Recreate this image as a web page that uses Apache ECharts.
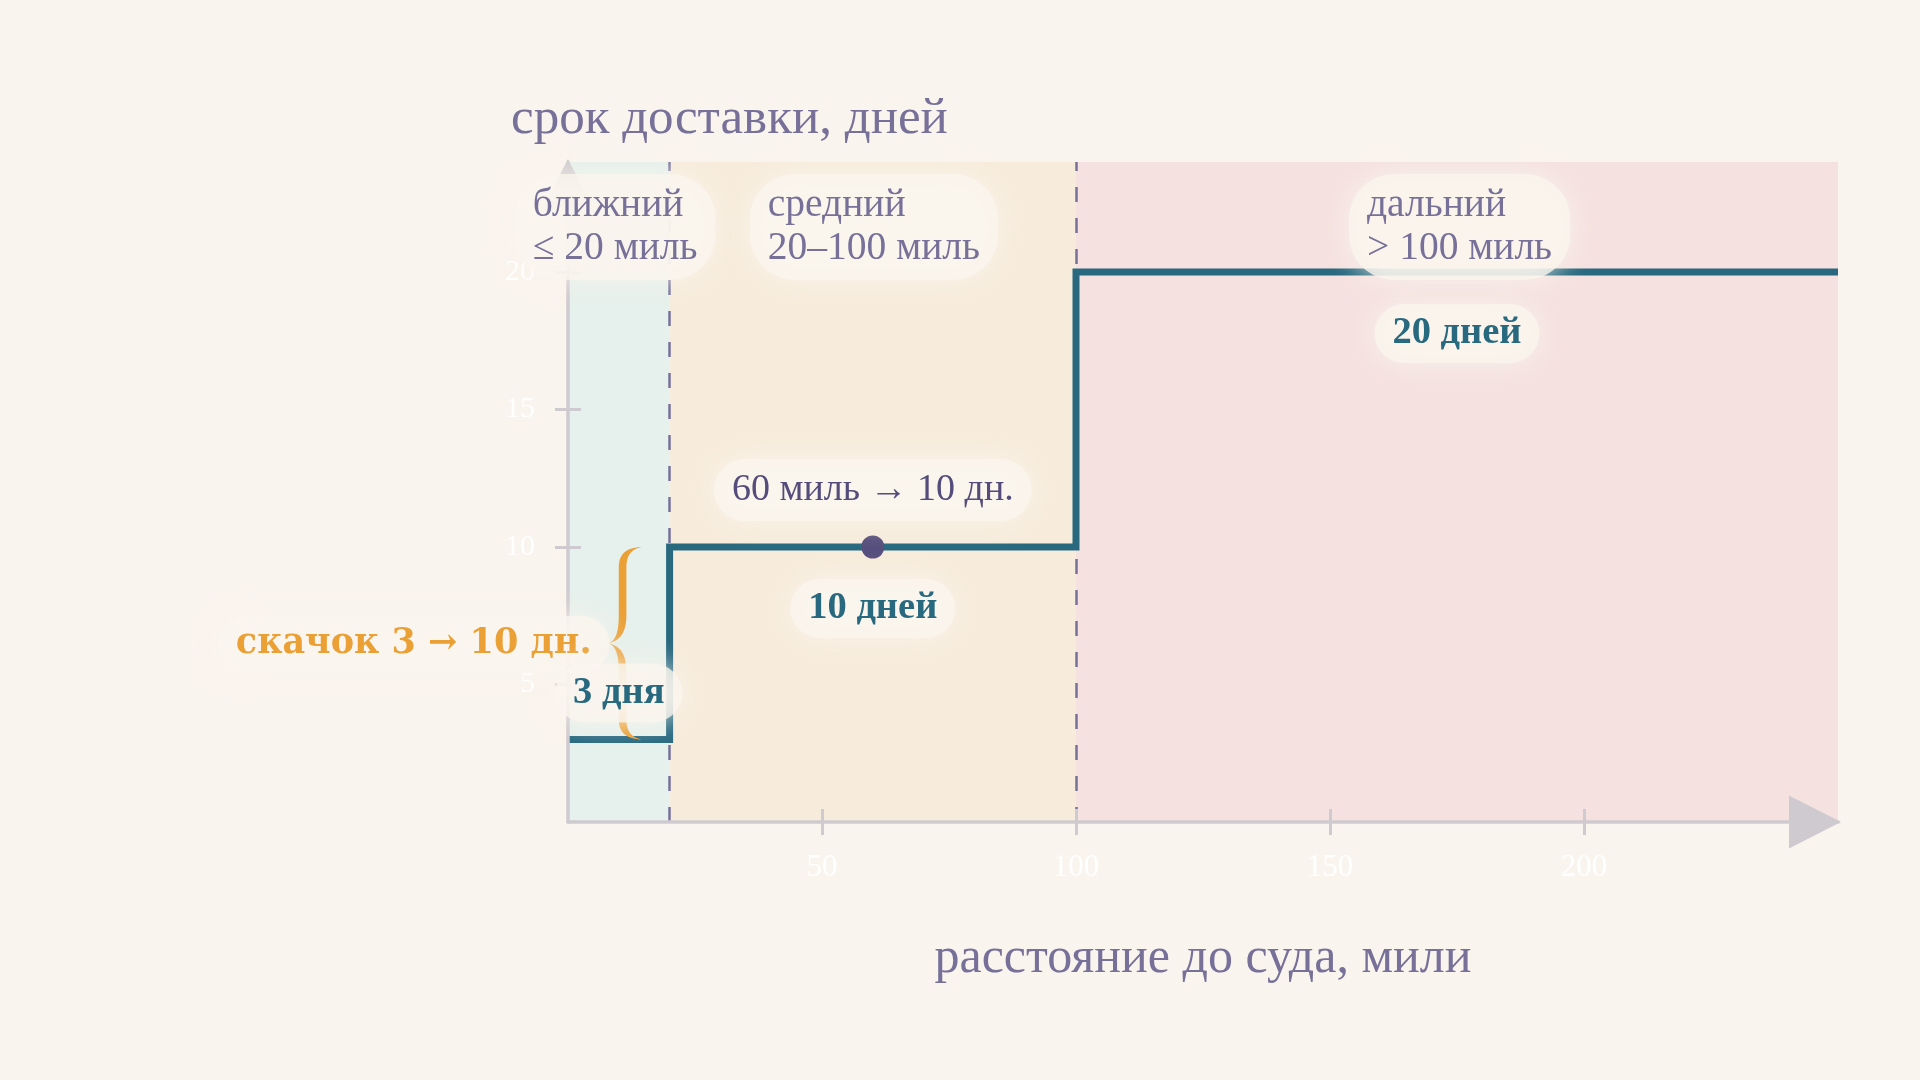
<!DOCTYPE html>
<html>
<head>
<meta charset="utf-8">
<script src="https://cdn.jsdelivr.net/npm/echarts@6/dist/echarts.min.js"></script>
<style>
html,body{margin:0;padding:0;background:#faf4ee;}
#chart{width:1920px;height:1080px;}
</style>
</head>
<body>
<div id="chart"></div>
<script>
// ---- data ----
const zoneBreaks = [0, 20, 100, 250];            // miles: zone boundaries and axis end
const zoneDays = [3, 10, 20];                    // delivery days in each zone
const zoneNames = ['ближний', 'средний', 'дальний'];
const zoneRanges = ['≤ 20 миль', '20–100 миль', '> 100 миль'];
const tierTexts = ['3 дня', '10 дней', '20 дней'];
const exampleMiles = 60;
const exampleDays = 10;
const xTickValues = [50, 100, 150, 200];
const yTickValues = [5, 10, 15, 20];
const yMax = 24;
const xTitle = 'расстояние до суда, мили';
const yTitle = 'срок доставки, дней';

// ---- styles ----
const FONT = "'Liberation Serif', 'Times New Roman', serif";
const WIDE_BOLD = "'DejaVu Serif', serif";
const TXT = '#77719a';
const LINE = '#286980';
const ORANGE = '#eba035';
const POINT = '#564e7c';
const AXIS = '#cfcacf';
const zoneColors = ['#e6f0ec', '#f7ecdc', '#f5e2e0'];
const halo = {
  backgroundColor: 'rgba(250,245,237,0.8)',
  borderRadius: 45,
  shadowBlur: 26,
  shadowColor: 'rgba(250,245,237,1)',
  opacity: 1
};

const stepData = zoneBreaks.map((x, i) => [x, zoneDays[Math.min(i, zoneDays.length - 1)]]);
const zoneCenters = zoneDays.map((_, i) => (zoneBreaks[i] + zoneBreaks[i + 1]) / 2);

function quad(out, p0, c, p1, n) {
  for (let i = 1; i <= n; i++) {
    const t = i / n, u = 1 - t;
    out.push([u*u*p0[0] + 2*u*t*c[0] + t*t*p1[0], u*u*p0[1] + 2*u*t*c[1] + t*t*p1[1]]);
  }
}
function bracePolygon(xs, yT, yB) {
  const hw = 3.8, tip = 15, end = 20, hook = 20, bend = 28;
  const ym = (yT + yB) / 2;
  const L = xs - hw, R = xs + hw;
  const pts = [[xs + end, yT]];
  quad(pts, [xs + end, yT], [L, yT], [L, yT + hook], 14);
  pts.push([L, ym - bend]);
  quad(pts, [L, ym - bend], [L, ym - 2], [xs - tip, ym], 14);
  quad(pts, [xs - tip, ym], [L, ym + 2], [L, ym + bend], 14);
  pts.push([L, yB - hook]);
  quad(pts, [L, yB - hook], [L, yB], [xs + end, yB], 14);
  quad(pts, [xs + end, yB], [R, yB - 2], [R, yB - hook], 14);
  pts.push([R, ym + bend]);
  quad(pts, [R, ym + bend], [R, ym + 3], [xs - tip, ym], 14);
  quad(pts, [xs - tip, ym], [R, ym - 3], [R, ym - bend], 14);
  pts.push([R, yT + hook]);
  quad(pts, [R, yT + hook], [R, yT + 2], [xs + end, yT], 14);
  return pts;
}

const chart = echarts.init(document.getElementById('chart'), null, {renderer: 'canvas'});

const tickStyle = {color: AXIS, width: 3};
const hidden = {color: 'rgba(0,0,0,0)', opacity: 1};
const option = {
  backgroundColor: '#faf4ee',
  animation: false,
  title: {
    text: yTitle, left: 511, top: 94, padding: 0,
    textStyle: {color: TXT, fontFamily: FONT, fontSize: 51, fontWeight: 'normal', lineHeight: 51}
  },
  grid: {left: 568, right: 82, top: 162, bottom: 258},
  xAxis: [{
    type: 'value', min: 0, max: zoneBreaks[zoneBreaks.length - 1], position: 'bottom', z: 4,
    axisLine: {show: true, lineStyle: {color: AXIS, width: 3.5},
      symbol: ['none', 'triangle'], symbolSize: [53, 52], symbolOffset: [0, -23]},
    axisTick: {show: true, length: 13, customValues: xTickValues, lineStyle: tickStyle},
    axisLabel: {customValues: xTickValues, color: '#ffffff', fontFamily: FONT, fontSize: 31, margin: 30},
    splitLine: {show: false},
    name: xTitle, nameLocation: 'middle', nameGap: 112,
    nameTextStyle: {color: TXT, fontFamily: FONT, fontSize: 50, lineHeight: 50}
  }, {
    type: 'value', min: 0, max: zoneBreaks[zoneBreaks.length - 1], position: 'bottom', z: 4,
    axisLine: {show: false},
    axisTick: {show: true, inside: true, length: 13, customValues: xTickValues, lineStyle: tickStyle},
    axisLabel: {show: false},
    splitLine: {show: false}
  }],
  yAxis: [{
    type: 'value', min: 0, max: yMax, position: 'left', z: 4,
    axisLine: {show: true, lineStyle: {color: AXIS, width: 3.5},
      symbol: ['none', 'triangle'], symbolSize: [53, 52], symbolOffset: [0, -23]},
    axisTick: {show: true, length: 13, customValues: yTickValues, lineStyle: tickStyle},
    axisLabel: {customValues: yTickValues, color: '#ffffff', fontFamily: FONT, fontSize: 30, margin: 33},
    splitLine: {show: false}
  }, {
    type: 'value', min: 0, max: yMax, position: 'left', z: 4,
    axisLine: {show: false},
    axisTick: {show: true, inside: true, length: 13, customValues: yTickValues, lineStyle: tickStyle},
    axisLabel: {show: false},
    splitLine: {show: false}
  }],
  series: [
    {
      name: 'zones', type: 'line', data: stepData, showSymbol: false, silent: true, z: 1,
      lineStyle: {opacity: 0},
      markArea: {
        silent: true, z: 1,
        data: zoneDays.map((_, i) => [
          {xAxis: zoneBreaks[i], itemStyle: {color: zoneColors[i], opacity: 1}},
          {xAxis: zoneBreaks[i + 1]}
        ])
      },
      markLine: {
        silent: true, z: 1.5, symbol: ['none', 'none'], label: {show: false},
        lineStyle: {type: [15, 16], width: 2.5, color: '#77719a', opacity: 1},
        data: zoneBreaks.slice(1, -1).map(x => ({xAxis: x}))
      }
    },
    {
      name: 'срок доставки', type: 'line', data: stepData, step: 'end', showSymbol: false,
      silent: true, z: 3,
      lineStyle: {color: LINE, width: 7, cap: 'butt', join: 'miter', opacity: 1}
    },
    {
      name: 'brace', type: 'custom', silent: true, z: 4,
      data: [[zoneBreaks[1], zoneDays[0], zoneDays[1]]],
      renderItem: function (params, api) {
        const top = api.coord([api.value(0), api.value(2)]);
        const bot = api.coord([api.value(0), api.value(1)]);
        return {type: 'polygon', shape: {points: bracePolygon(top[0] - 47, top[1], bot[1])},
          style: {fill: ORANGE}};
      }
    },
    {
      name: 'jump', type: 'scatter', symbolSize: 0, silent: true, z: 6,
      itemStyle: hidden,
      data: [[zoneBreaks[1], (zoneDays[0] + zoneDays[1]) / 2]],
      label: Object.assign({
        show: true, position: 'left', distance: 60, offset: [0, 1],
        formatter: () => 'скачок ' + zoneDays[0] + ' → ' + zoneDays[1] + ' дн.',
        color: ORANGE, fontFamily: WIDE_BOLD, fontWeight: 'bold', fontSize: 35, lineHeight: 37,
        padding: [10, 18]
      }, halo)
    },
    {
      name: 'example', type: 'scatter', symbol: 'circle', symbolSize: 23, silent: true, z: 5,
      itemStyle: {color: POINT, opacity: 1},
      data: [[exampleMiles, exampleDays]],
      label: Object.assign({
        show: true, position: 'top', distance: 14.5,
        formatter: () => exampleMiles + ' миль → ' + exampleDays + ' дн.',
        color: '#544c7a', fontFamily: FONT, fontSize: 38, lineHeight: 38, padding: [12, 18]
      }, halo)
    },
    {
      name: 'tiers', type: 'scatter', symbolSize: 0, silent: true, z: 6,
      itemStyle: hidden,
      data: zoneDays.map((d, i) => ({
        value: [zoneCenters[i], d],
        label: i === 0 ? {position: 'top', distance: 17} : {position: 'bottom', distance: 32}
      })),
      label: Object.assign({
        show: true,
        formatter: p => tierTexts[p.dataIndex],
        color: LINE, fontFamily: FONT, fontWeight: 'bold', fontSize: 38.5, lineHeight: 39,
        padding: [10, 18]
      }, halo)
    },
    {
      name: 'zoneLabels', type: 'scatter', symbolSize: 0, silent: true, z: 6,
      itemStyle: hidden,
      data: zoneCenters.map((c, i) => ({
        value: [c, yMax],
        label: {offset: [[-104, 0], [-123, 0], [-108, 0]][i]}
      })),
      label: Object.assign({
        show: true, position: 'bottom', distance: 12, align: 'left',
        formatter: p => zoneNames[p.dataIndex] + '\n' + zoneRanges[p.dataIndex],
        color: TXT, fontFamily: FONT, fontSize: 39.5, lineHeight: 43, padding: [10, 18]
      }, halo)
    }
  ]
};
chart.setOption(option);
</script>
</body>
</html>
